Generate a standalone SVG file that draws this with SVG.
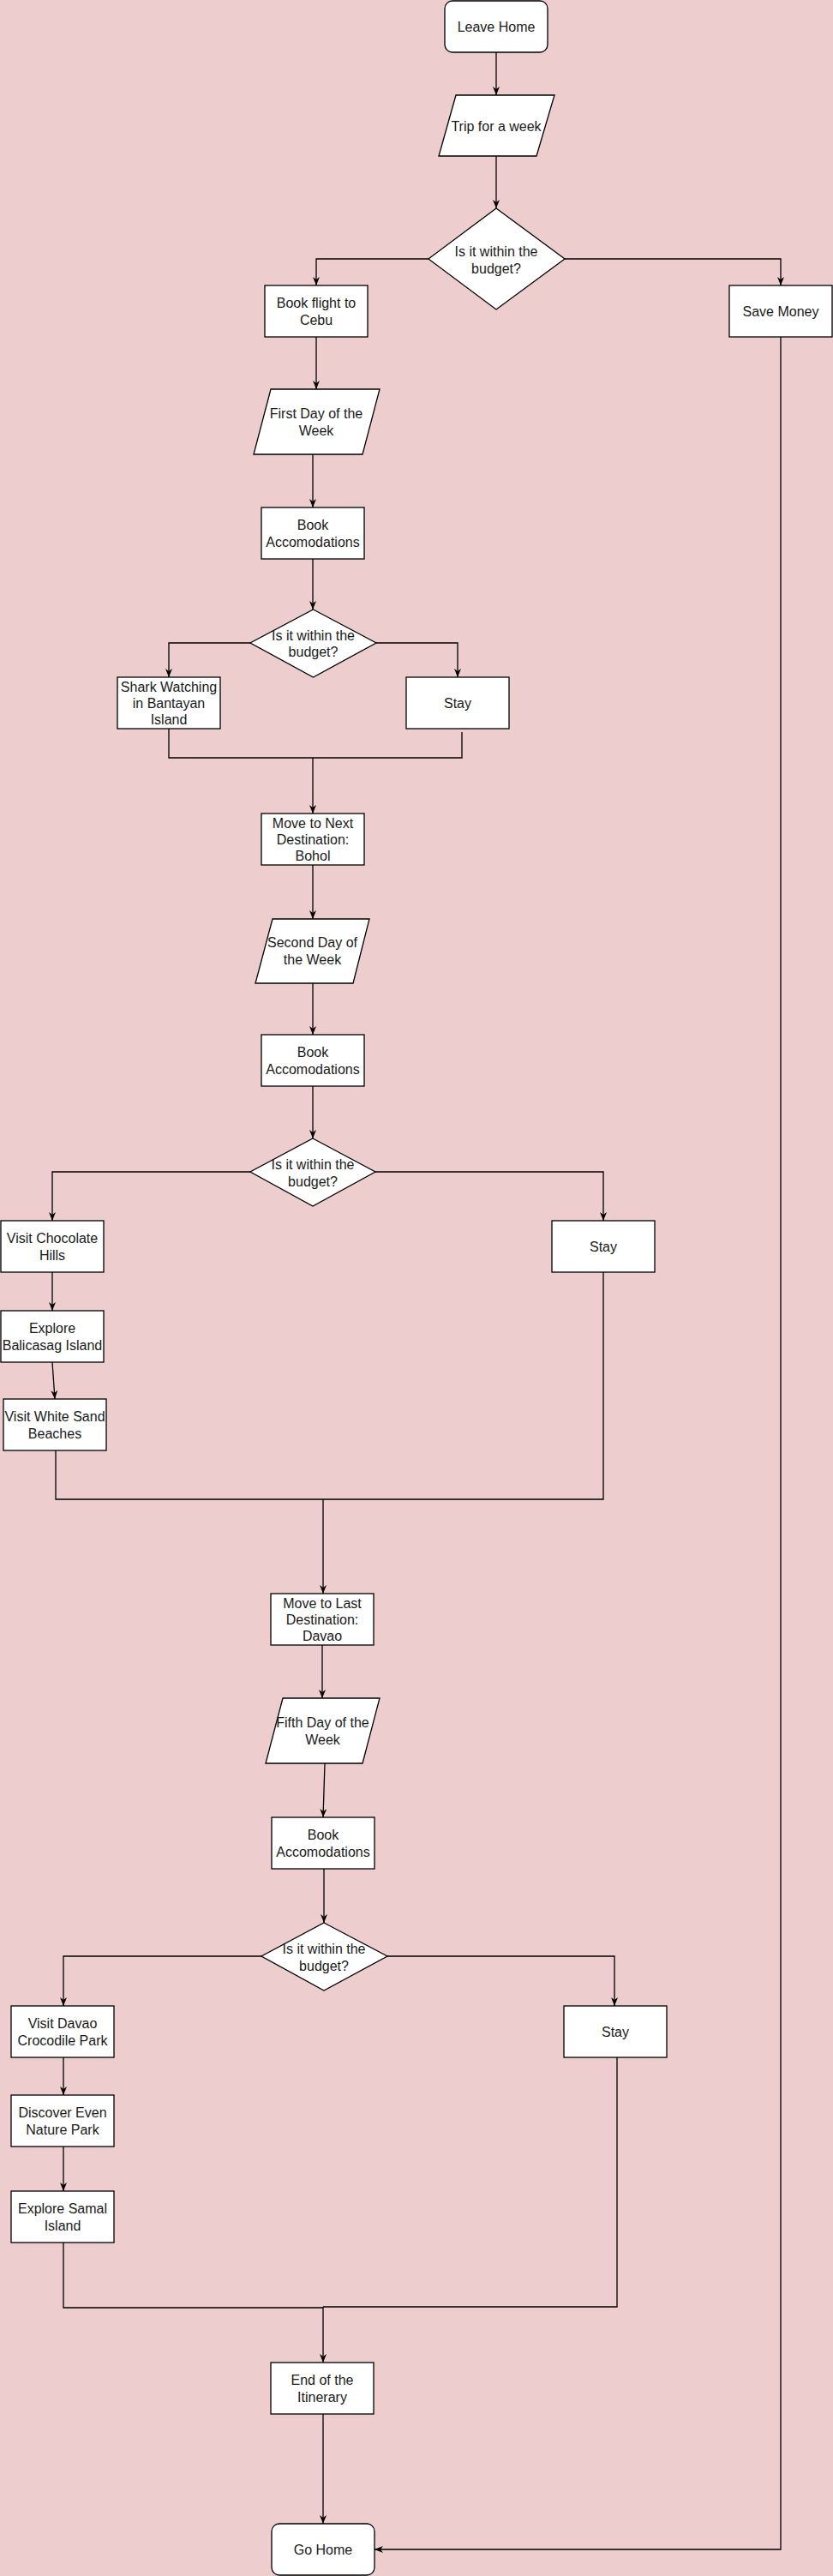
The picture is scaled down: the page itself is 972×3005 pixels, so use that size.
<svg xmlns="http://www.w3.org/2000/svg" width="972" height="3005" viewBox="0 0 972 3005">
<style>
.n{fill:#ffffff;stroke:#000000;stroke-width:1.3}
.t{font-family:"Liberation Sans",Arial,sans-serif;font-size:16px;fill:#1a1a1a;text-anchor:middle;dominant-baseline:central}
.c{fill:none;stroke:#000000;stroke-width:1.3}
.a{marker-end:url(#arr)}
</style>
<defs>
<marker id="arr" viewBox="0 0 10 10" markerWidth="10" markerHeight="10" refX="10" refY="5" orient="auto" markerUnits="userSpaceOnUse">
<path d="M0,1 L10,5 L0,9 L3,5 z" fill="#000000"/>
</marker>
</defs>
<rect x="0" y="0" width="972" height="3005" fill="#EECDCF"/>
<g id="connectors">
<path class="c a" d="M579,61 V111"/>
<path class="c a" d="M579,182 V243"/>
<path class="c a" d="M500,302 H369 V333"/>
<path class="c a" d="M659,302 H911 V333"/>
<path class="c a" d="M369,393 V454"/>
<path class="c a" d="M365,530 V592"/>
<path class="c a" d="M365,652 V711"/>
<path class="c a" d="M292,750 H197 V790"/>
<path class="c a" d="M439,750 H534 V790"/>
<path class="c" d="M197,850 V884 H539 V854"/>
<path class="c a" d="M365,884 V949"/>
<path class="c a" d="M365,1009 V1072"/>
<path class="c a" d="M365,1147 V1207"/>
<path class="c a" d="M365,1267 V1328"/>
<path class="c a" d="M292,1367 H61 V1424"/>
<path class="c a" d="M438,1367 H704 V1424"/>
<path class="c a" d="M61,1484 V1529"/>
<path class="c a" d="M61,1589 L64,1632"/>
<path class="c" d="M65,1692 V1749 H704 V1484"/>
<path class="c a" d="M377,1749 V1859"/>
<path class="c a" d="M376,1919 V1981"/>
<path class="c a" d="M379,2057 L377,2120"/>
<path class="c a" d="M378,2180 V2243"/>
<path class="c a" d="M305,2282 H74 V2340"/>
<path class="c a" d="M452,2282 H717 V2340"/>
<path class="c a" d="M74,2400 V2444"/>
<path class="c a" d="M74,2504 V2556"/>
<path class="c" d="M74,2616 V2692 H377"/>
<path class="c" d="M720,2399 V2691 H377"/>
<path class="c a" d="M377,2691 V2756"/>
<path class="c a" d="M377,2816 V2944"/>
<path class="c a" d="M911,393 V2974 H437"/>
</g>
<g id="leave-home"><rect class="n" x="519" y="1" width="120" height="60" rx="9"/><text class="t" x="579" y="31">Leave Home</text></g>
<g id="trip-week"><polygon class="n" points="532,111 647,111 626,182 512,182"/><text class="t" x="579" y="147">Trip for a week</text></g>
<g id="budget-1"><polygon class="n" points="579,243 659,302 579,361 500,302"/><text class="t" x="579" y="293">Is it within the</text><text class="t" x="579" y="313">budget?</text></g>
<g id="book-flight"><rect class="n" x="309" y="333" width="120" height="60"/><text class="t" x="369" y="353">Book flight to</text><text class="t" x="369" y="373">Cebu</text></g>
<g id="save-money"><rect class="n" x="851" y="333" width="120" height="60"/><text class="t" x="911" y="363">Save Money</text></g>
<g id="first-day"><polygon class="n" points="316,454 443,454 423,530 296,530"/><text class="t" x="369" y="482">First Day of the</text><text class="t" x="369" y="502">Week</text></g>
<g id="book-acc-1"><rect class="n" x="305" y="592" width="120" height="60"/><text class="t" x="365" y="612">Book</text><text class="t" x="365" y="632">Accomodations</text></g>
<g id="budget-2"><polygon class="n" points="365.5,711 439,750 365.5,790 292,750"/><text class="t" x="365.5" y="741">Is it within the</text><text class="t" x="365.5" y="760">budget?</text></g>
<g id="shark"><rect class="n" x="137" y="790" width="120" height="60"/><text class="t" x="197" y="801">Shark Watching</text><text class="t" x="197" y="820">in Bantayan</text><text class="t" x="197" y="839">Island</text></g>
<g id="stay-1"><rect class="n" x="474" y="790" width="120" height="60"/><text class="t" x="534" y="820">Stay</text></g>
<g id="move-bohol"><rect class="n" x="305" y="949" width="120" height="60"/><text class="t" x="365" y="960">Move to Next</text><text class="t" x="365" y="979">Destination:</text><text class="t" x="365" y="998">Bohol</text></g>
<g id="second-day"><polygon class="n" points="318,1072 431,1072 412,1147 298,1147"/><text class="t" x="364.5" y="1099">Second Day of</text><text class="t" x="364.5" y="1119">the Week</text></g>
<g id="book-acc-2"><rect class="n" x="305" y="1207" width="120" height="60"/><text class="t" x="365" y="1227">Book</text><text class="t" x="365" y="1247">Accomodations</text></g>
<g id="budget-3"><polygon class="n" points="365,1328 438,1367 365,1407 292,1367"/><text class="t" x="365" y="1358">Is it within the</text><text class="t" x="365" y="1378">budget?</text></g>
<g id="chocolate"><rect class="n" x="1" y="1424" width="120" height="60"/><text class="t" x="61" y="1444">Visit Chocolate</text><text class="t" x="61" y="1464">Hills</text></g>
<g id="stay-2"><rect class="n" x="644" y="1424" width="120" height="60"/><text class="t" x="704" y="1454">Stay</text></g>
<g id="balicasag"><rect class="n" x="1" y="1529" width="120" height="60"/><text class="t" x="61" y="1549">Explore</text><text class="t" x="61" y="1569">Balicasag Island</text></g>
<g id="white-sand"><rect class="n" x="4" y="1632" width="120" height="60"/><text class="t" x="64" y="1652">Visit White Sand</text><text class="t" x="64" y="1672">Beaches</text></g>
<g id="move-davao"><rect class="n" x="316" y="1859" width="120" height="60"/><text class="t" x="376" y="1870">Move to Last</text><text class="t" x="376" y="1889">Destination:</text><text class="t" x="376" y="1908">Davao</text></g>
<g id="fifth-day"><polygon class="n" points="330,1981 443,1981 423,2057 310,2057"/><text class="t" x="376.5" y="2009">Fifth Day of the</text><text class="t" x="376.5" y="2029">Week</text></g>
<g id="book-acc-3"><rect class="n" x="317" y="2120" width="120" height="60"/><text class="t" x="377" y="2140">Book</text><text class="t" x="377" y="2160">Accomodations</text></g>
<g id="budget-4"><polygon class="n" points="378,2243 452,2282 378,2322 305,2282"/><text class="t" x="378" y="2273">Is it within the</text><text class="t" x="378" y="2293">budget?</text></g>
<g id="crocodile"><rect class="n" x="13" y="2340" width="120" height="60"/><text class="t" x="73" y="2360">Visit Davao</text><text class="t" x="73" y="2380">Crocodile Park</text></g>
<g id="stay-3"><rect class="n" x="658" y="2340" width="120" height="60"/><text class="t" x="718" y="2370">Stay</text></g>
<g id="nature-park"><rect class="n" x="13" y="2444" width="120" height="60"/><text class="t" x="73" y="2464">Discover Even</text><text class="t" x="73" y="2484">Nature Park</text></g>
<g id="samal"><rect class="n" x="13" y="2556" width="120" height="60"/><text class="t" x="73" y="2576">Explore Samal</text><text class="t" x="73" y="2596">Island</text></g>
<g id="end-itinerary"><rect class="n" x="316" y="2756" width="120" height="60"/><text class="t" x="376" y="2776">End of the</text><text class="t" x="376" y="2796">Itinerary</text></g>
<g id="go-home"><rect class="n" x="317" y="2944" width="120" height="60" rx="9"/><text class="t" x="377" y="2974">Go Home</text></g>
</svg>
